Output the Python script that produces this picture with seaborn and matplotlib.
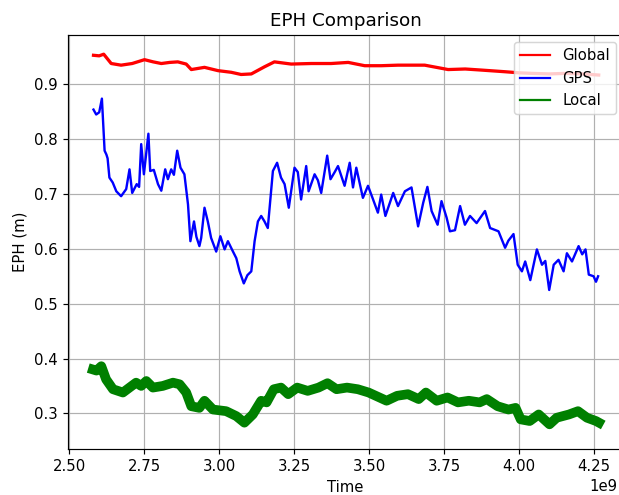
import matplotlib
matplotlib.use("Agg")
import matplotlib.pyplot as plt
import seaborn as sns
import numpy as np

# Time (in 1e9 units) and EPH values
gps_t = [2.581, 2.590, 2.600, 2.609, 2.618, 2.624, 2.628, 2.634, 2.645, 2.657, 2.673, 2.690, 2.701,
         2.710, 2.725, 2.733, 2.740, 2.749, 2.764, 2.770, 2.782, 2.796, 2.807, 2.820, 2.829, 2.840,
         2.849, 2.860, 2.871, 2.884, 2.896, 2.904, 2.916, 2.924, 2.934, 2.940, 2.951, 2.962, 2.973,
         2.990, 3.004, 3.018, 3.029, 3.046, 3.057, 3.068, 3.082, 3.094, 3.107, 3.118, 3.129, 3.140,
         3.151, 3.162, 3.179, 3.193, 3.206, 3.218, 3.232, 3.251, 3.262, 3.273, 3.290, 3.298, 3.318,
         3.329, 3.340, 3.360, 3.371, 3.385, 3.396, 3.418, 3.435, 3.446, 3.457, 3.479, 3.496, 3.513,
         3.529, 3.540, 3.554, 3.580, 3.596, 3.619, 3.641, 3.663, 3.680, 3.694, 3.708, 3.728, 3.741,
         3.758, 3.769, 3.786, 3.803, 3.819, 3.836, 3.858, 3.886, 3.903, 3.931, 3.953, 3.964, 3.981,
         3.995, 4.009, 4.020, 4.037, 4.059, 4.076, 4.087, 4.100, 4.115, 4.131, 4.148, 4.159, 4.176,
         4.198, 4.210, 4.221, 4.232, 4.248, 4.256, 4.263]
gps_v = [0.854, 0.845, 0.849, 0.874, 0.779, 0.772, 0.765, 0.730, 0.721, 0.705, 0.696, 0.709, 0.745,
         0.702, 0.718, 0.713, 0.791, 0.736, 0.810, 0.742, 0.744, 0.718, 0.706, 0.745, 0.727, 0.745,
         0.735, 0.779, 0.748, 0.736, 0.681, 0.614, 0.650, 0.622, 0.605, 0.620, 0.675, 0.650, 0.620,
         0.595, 0.623, 0.599, 0.614, 0.595, 0.583, 0.559, 0.537, 0.552, 0.559, 0.614, 0.650, 0.660,
         0.650, 0.638, 0.742, 0.757, 0.730, 0.718, 0.675, 0.748, 0.740, 0.690, 0.751, 0.705, 0.736,
         0.725, 0.702, 0.770, 0.727, 0.740, 0.751, 0.715, 0.757, 0.712, 0.748, 0.693, 0.715, 0.690,
         0.666, 0.699, 0.660, 0.702, 0.678, 0.705, 0.712, 0.641, 0.684, 0.713, 0.669, 0.644, 0.687,
         0.657, 0.632, 0.634, 0.678, 0.644, 0.660, 0.647, 0.669, 0.638, 0.632, 0.602, 0.615, 0.627,
         0.571, 0.559, 0.577, 0.543, 0.599, 0.571, 0.578, 0.525, 0.571, 0.580, 0.559, 0.592, 0.577,
         0.605, 0.590, 0.599, 0.553, 0.550, 0.540, 0.550]

glob_t = [2.581, 2.600, 2.615, 2.640, 2.673, 2.710, 2.751, 2.780, 2.807, 2.835, 2.862, 2.890, 2.907,
          2.951, 2.996, 3.040, 3.073, 3.107, 3.151, 3.184, 3.240, 3.307, 3.373, 3.430, 3.485, 3.540,
          3.596, 3.640, 3.685, 3.763, 3.820, 3.875, 3.953, 4.000, 4.042, 4.100, 4.153, 4.210, 4.265]
glob_v = [0.953, 0.952, 0.955, 0.938, 0.935, 0.938, 0.945, 0.941, 0.938, 0.940, 0.941, 0.937, 0.927,
          0.931, 0.925, 0.922, 0.918, 0.919, 0.932, 0.941, 0.937, 0.938, 0.938, 0.940, 0.934, 0.934,
          0.935, 0.935, 0.935, 0.927, 0.928, 0.926, 0.923, 0.921, 0.920, 0.919, 0.920, 0.919, 0.917]

loc_t = [2.579, 2.591, 2.607, 2.623, 2.646, 2.679, 2.701, 2.723, 2.740, 2.757, 2.779, 2.812, 2.846,
         2.868, 2.890, 2.907, 2.934, 2.951, 2.979, 3.023, 3.057, 3.084, 3.112, 3.140, 3.158, 3.182,
         3.206, 3.230, 3.260, 3.295, 3.331, 3.361, 3.391, 3.426, 3.462, 3.498, 3.534, 3.558, 3.593,
         3.629, 3.665, 3.689, 3.725, 3.761, 3.796, 3.832, 3.868, 3.892, 3.928, 3.964, 3.988, 4.005,
         4.035, 4.065, 4.101, 4.125, 4.166, 4.196, 4.226, 4.256, 4.266]
loc_v = [0.380, 0.378, 0.386, 0.362, 0.344, 0.338, 0.347, 0.356, 0.350, 0.359, 0.347, 0.350, 0.356,
         0.353, 0.338, 0.313, 0.310, 0.323, 0.307, 0.304, 0.295, 0.283, 0.298, 0.323, 0.320, 0.344,
         0.347, 0.335, 0.347, 0.341, 0.347, 0.355, 0.344, 0.347, 0.344, 0.338, 0.329, 0.323, 0.332,
         0.335, 0.326, 0.338, 0.323, 0.329, 0.320, 0.323, 0.320, 0.326, 0.313, 0.307, 0.310, 0.289,
         0.286, 0.298, 0.280, 0.292, 0.298, 0.304, 0.292, 0.286, 0.283]

DPI = 107
fig = plt.figure(figsize=(619 / DPI, 495 / DPI), dpi=DPI)
ax = fig.add_axes([68 / 619, 46 / 495, 555 / 619, 414 / 495])

sns.lineplot(x=np.array(glob_t) * 1e9, y=glob_v, color="red", linewidth=2.2, label="Global", ax=ax)
sns.lineplot(x=np.array(gps_t) * 1e9, y=gps_v, color="blue", linewidth=1.6, label="GPS", ax=ax)
sns.lineplot(x=np.array(loc_t) * 1e9, y=loc_v, color="green", linewidth=6.5, label="Local", ax=ax)

ax.set_xlim(2.496e9, 4.346e9)
ax.set_ylim(0.235, 0.990)
ax.set_xticks([2.5e9, 2.75e9, 3.0e9, 3.25e9, 3.5e9, 3.75e9, 4.0e9, 4.25e9])
ax.set_yticks([0.3, 0.4, 0.5, 0.6, 0.7, 0.8, 0.9])
ax.grid(True, color="#b0b0b0", linewidth=0.8)
ax.set_title("EPH Comparison", fontsize=12.4)
ax.set_xlabel("Time", fontsize=10)
ax.set_ylabel("EPH (m)", fontsize=10)
ax.tick_params(labelsize=10)
leg = ax.legend(loc="upper right", fontsize=10, framealpha=0.8)
for line in leg.get_lines():
    line.set_linewidth(1.5)
ax.xaxis.get_offset_text().set_x(0.989)

fig.savefig("out.png", dpi=DPI)
